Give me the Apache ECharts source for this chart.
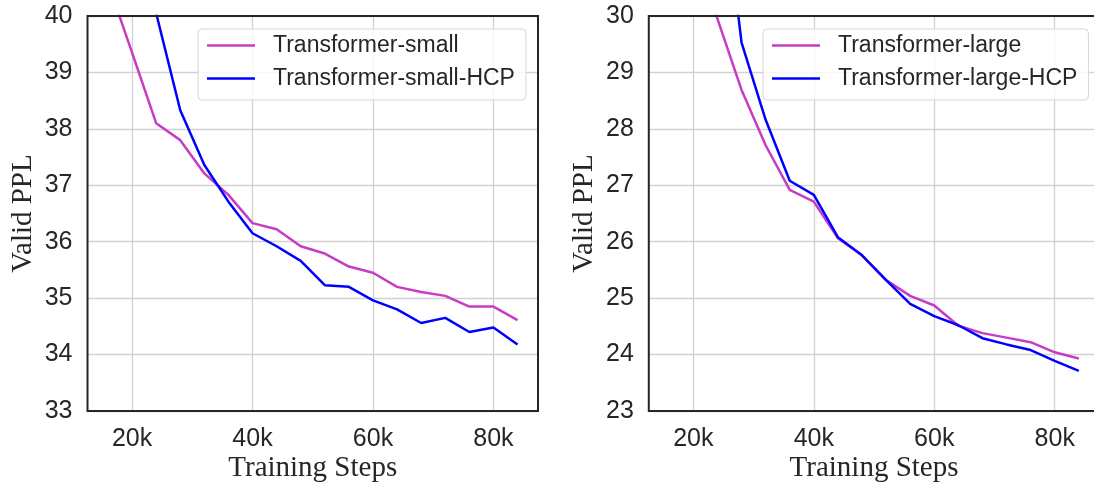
<!DOCTYPE html>
<html>
<head>
<meta charset="utf-8">
<script src="https://cdn.jsdelivr.net/npm/echarts@6/dist/echarts.min.js"></script>
<style>
  html, body { margin: 0; padding: 0; background: #ffffff; }
  #chart { width: 1094px; height: 483px; }
</style>
</head>
<body>
<div id="chart"></div>
<script>
// Training steps at which validation perplexity was measured
const steps = [16000, 20000, 24000, 28000, 32000, 36000, 40000, 44000, 48000,
               52000, 56000, 60000, 64000, 68000, 72000, 76000, 80000, 84000];

// Transformer-small (left panel)
const smallBase = [40.59, 39.35, 38.10, 37.80, 37.21, 36.83, 36.33, 36.22, 35.92,
                   35.79, 35.56, 35.45, 35.20, 35.11, 35.04, 34.85, 34.85, 34.61];
const smallHCP  = [43.00, 41.50, 40.05, 38.33, 37.36, 36.71, 36.15, 35.92, 35.66,
                   35.23, 35.20, 34.96, 34.80, 34.56, 34.65, 34.40, 34.48, 34.18];

// Transformer-large (right panel)
const largeBase = [33.00, 31.20, 29.95, 28.69, 27.71, 26.92, 26.71, 26.06, 25.76,
                   25.32, 25.04, 24.87, 24.51, 24.38, 24.30, 24.22, 24.04, 23.93];
const largeHCP  = [36.00, 34.50, 33.08, 29.53, 28.16, 27.08, 26.83, 26.08, 25.76,
                   25.32, 24.90, 24.68, 24.52, 24.29, 24.18, 24.08, 23.89, 23.71];

// Axis ticks
const xTickValues = [20000, 40000, 60000, 80000];
const xTickLabels = ['20k', '40k', '60k', '80k'];
const smallYRange = [33, 40];
const largeYRange = [23, 30];

const seriesNames = {
  smallBase: 'Transformer-small',
  smallHCP: 'Transformer-small-HCP',
  largeBase: 'Transformer-large',
  largeHCP: 'Transformer-large-HCP'
};

const MAGENTA = '#c83cc4';
const BLUE = '#0000ff';
const INK = '#262626';
const GRID_LINE = '#d2d2d2';
const SANS = "'Liberation Sans', Arial, Helvetica, sans-serif";
const SERIF = "'Liberation Serif', 'Times New Roman', serif";

const toPairs = (ys) => steps.map((s, i) => [s, ys[i]]);

function xAxisFor(gridIndex) {
  return {
    type: 'value',
    gridIndex: gridIndex,
    min: 12600,
    max: 87400,
    name: 'Training Steps',
    nameLocation: 'middle',
    nameGap: 43,
    nameMoveOverlap: false,
    nameTextStyle: { fontFamily: SERIF, fontSize: 29, color: INK },
    axisLine: { show: false },
    axisTick: { show: false, customValues: xTickValues },
    axisLabel: {
      customValues: xTickValues,
      formatter: (v) => xTickLabels[xTickValues.indexOf(v)],
      fontFamily: SANS, fontSize: 25, color: INK, margin: 16
    },
    splitLine: { show: true, lineStyle: { color: GRID_LINE, width: 1.3 } }
  };
}

function yAxisFor(gridIndex, range) {
  return {
    type: 'value',
    gridIndex: gridIndex,
    min: range[0],
    max: range[1],
    interval: 1,
    name: 'Valid PPL',
    nameLocation: 'middle',
    nameGap: 50,
    nameTextStyle: { fontFamily: SERIF, fontSize: 29, color: INK },
    axisLine: { show: false },
    axisTick: { show: false },
    axisLabel: { fontFamily: SANS, fontSize: 25, color: INK, margin: 15 },
    splitLine: { show: true, lineStyle: { color: GRID_LINE, width: 1.3 } }
  };
}

function lineSeries(name, ys, color, idx) {
  return {
    type: 'line',
    name: name,
    xAxisIndex: idx,
    yAxisIndex: idx,
    data: toPairs(ys),
    symbol: 'none',
    clip: true,
    color: color,
    lineStyle: { color: color, width: 2.5 },
    itemStyle: { color: color },
    z: 3
  };
}

function legendFor(names, left) {
  return {
    data: names,
    orient: 'vertical',
    left: left,
    top: 29,
    icon: 'rect',
    itemWidth: 48,
    itemHeight: 2.4,
    itemGap: 10,
    padding: [5, 11, 10, 9],
    backgroundColor: 'rgba(255,255,255,0.8)',
    borderColor: '#d6d6d6',
    borderWidth: 1,
    borderRadius: 4,
    selectedMode: false,
    textStyle: {
      fontFamily: SANS, fontSize: 23, color: INK,
      lineHeight: 23, padding: [0, 0, 0, 13]
    }
  };
}

// Plot frame drawn above the gridlines, like spines
const frame = {
  show: true, z: 10, backgroundColor: 'transparent',
  borderColor: INK, borderWidth: 2, outerBoundsMode: 'none', containLabel: false
};

const chart = echarts.init(document.getElementById('chart'), null, { renderer: 'canvas' });
chart.setOption({
  animation: false,
  backgroundColor: '#ffffff',
  grid: [
    Object.assign({ left: 87.5, top: 16, width: 450.5, height: 395 }, frame),
    Object.assign({ left: 648.8, top: 16, width: 450.5, height: 395 }, frame)
  ],
  xAxis: [xAxisFor(0), xAxisFor(1)],
  yAxis: [yAxisFor(0, smallYRange), yAxisFor(1, largeYRange)],
  legend: [
    legendFor([seriesNames.smallBase, seriesNames.smallHCP], 198),
    legendFor([seriesNames.largeBase, seriesNames.largeHCP], 763)
  ],
  series: [
    lineSeries(seriesNames.smallBase, smallBase, MAGENTA, 0),
    lineSeries(seriesNames.smallHCP, smallHCP, BLUE, 0),
    lineSeries(seriesNames.largeBase, largeBase, MAGENTA, 1),
    lineSeries(seriesNames.largeHCP, largeHCP, BLUE, 1)
  ]
});
</script>
</body>
</html>
